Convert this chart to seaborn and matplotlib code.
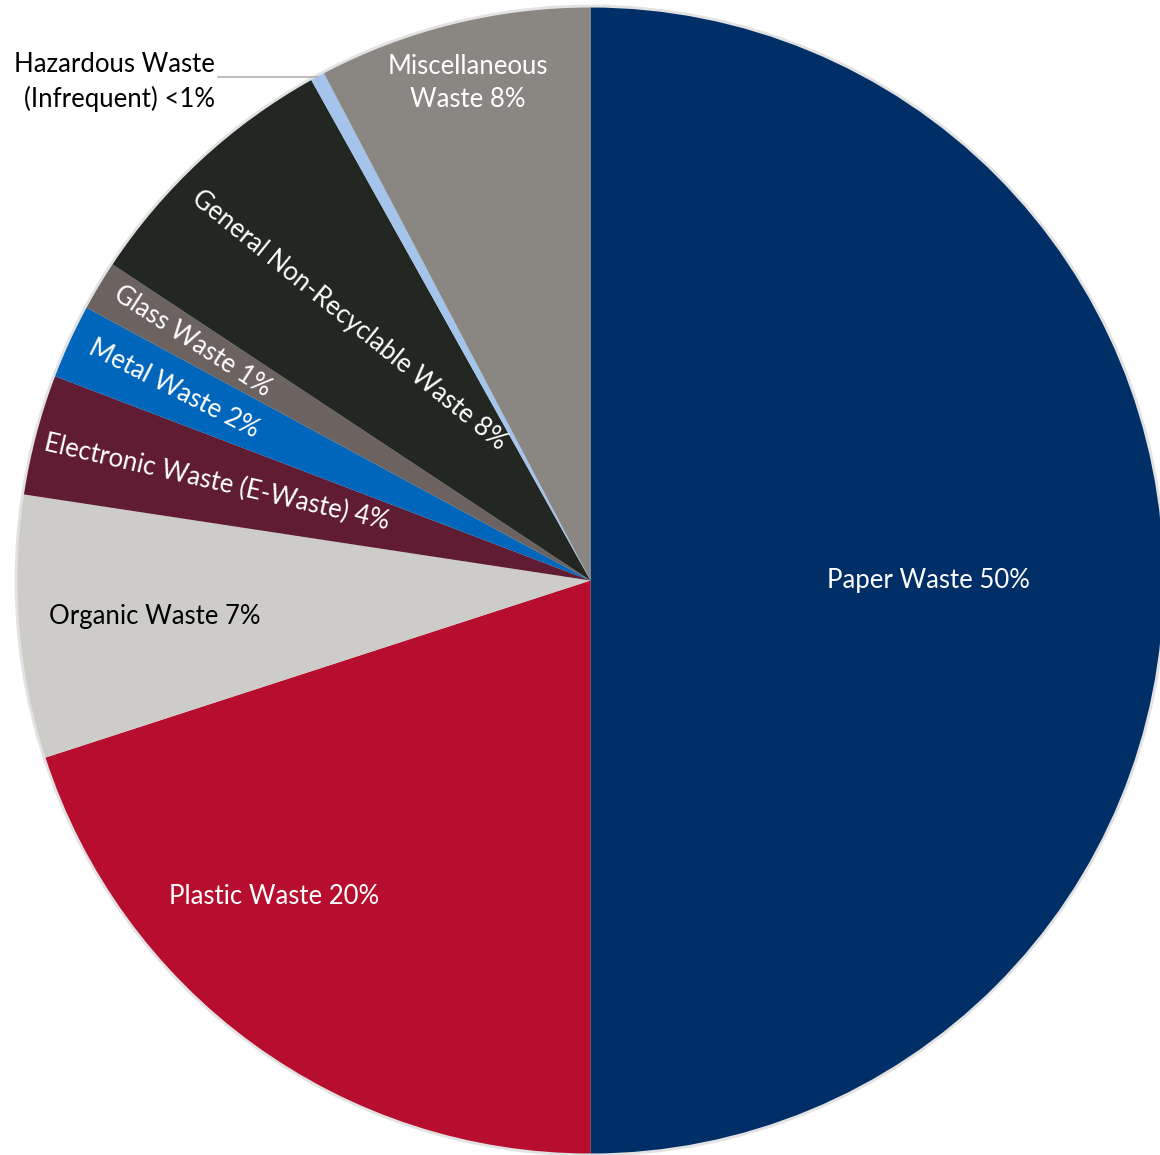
import matplotlib
matplotlib.use("Agg")
from matplotlib import pyplot as plt
from matplotlib.patches import Circle
import seaborn as sns
import numpy as np

# slices, clockwise from 12 o'clock
categories = [
    "Paper Waste",
    "Plastic Waste",
    "Organic Waste",
    "Electronic Waste (E-Waste)",
    "Metal Waste",
    "Glass Waste",
    "General Non-Recyclable Waste",
    "Hazardous Waste\n(Infrequent)",
    "Miscellaneous\nWaste",
]
shares = [50.0, 20.0, 7.4, 3.4, 2.1, 1.4, 7.6, 0.4, 7.7]
pct_labels = ["50%", "20%", "7%", "4%", "2%", "1%", "8%", "<1%", "8%"]
colors = ["#002E67", "#B70E30", "#CECCC8", "#601C33", "#0066BB",
          "#6C6361", "#222722", "#A4C4EC", "#8A8782"]

# label styling
label_radius = [0.59, 0.78, 0.763, 0.674, 0.80, 0.81, 0.62, None, 0.895]
label_shift = [0, -9, 0, 0, 0, 0, 0, 0, 0]
label_rot = [0, 0, 0, -13, -27, -33, -39, 0, 0]
label_color = ["white", "white", "black", "white", "white", "white", "white", "black", "white"]

sns.set_theme(style="white")
plt.rcParams["font.family"] = ["Lato", "DejaVu Sans"]

fig = plt.figure(figsize=(11.6, 11.55), dpi=100)
ax = fig.add_axes([0, 0, 1, 1])

# soft rim like the original's shadow
ax.add_patch(Circle((0, 0), 1.005, facecolor="#e2e2e2", edgecolor="none", zorder=0))

wedges, _ = ax.pie(
    shares,
    colors=colors,
    startangle=90,
    counterclock=False,
    radius=1.0,
    wedgeprops=dict(linewidth=0, edgecolor="none"),
)

for w, cat, pct, r, shift, rot, col in zip(
    wedges, categories, pct_labels, label_radius, label_shift, label_rot, label_color
):
    mid = np.deg2rad((w.theta1 + w.theta2) / 2 + shift)
    text = f"{cat} {pct}"
    if r is None:
        # outside label with leader line
        ex, ey = np.cos(mid), np.sin(mid)
        ax.plot([-0.65, ex], [ey, ey], color="#b0b0b0", lw=1.2, zorder=3)
        ax.text(-0.655, 0.870, text, ha="right", va="center", fontsize=18.5,
                color=col, linespacing=1.4)
        continue
    ax.text(r * np.cos(mid), r * np.sin(mid), text, ha="center", va="center",
            rotation=rot, rotation_mode="anchor", fontsize=18.5, color=col,
            linespacing=1.4)

ax.set_xlim(-1.0305, 0.9939)
ax.set_ylim(-1.0026, 1.0131)
ax.set_aspect("equal")
ax.axis("off")

fig.savefig("out.png", dpi=100)
